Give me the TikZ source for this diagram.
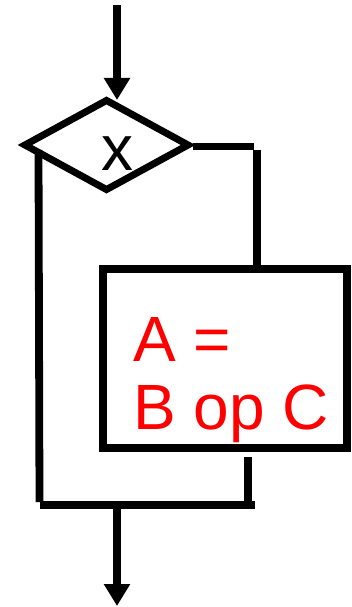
\documentclass[tikz,border=0pt]{standalone}
\usepackage{fontspec}
\setmainfont{Liberation Sans}
\usetikzlibrary{shapes.geometric,arrows.meta}
\begin{document}
\begin{tikzpicture}[x=1pt,y=-1pt,
  wire/.style={line width=7.8pt},
  arr/.style={wire,-{Triangle[width=25pt,length=22pt]}},
  bigtext/.style={font=\fontsize{64}{68}\selectfont,inner sep=0pt}]
\useasboundingbox (0,0) rectangle (351,607);
% decision
\node[diamond,draw,line width=7pt,minimum width=166pt,minimum height=92pt,inner sep=0pt] (d) at (106.5,145) {};
\node[bigtext] (xl) at (117,154) {x};
% process box
\node[draw,line width=8pt,minimum width=244pt,minimum height=179pt,inner sep=0pt] (b) at (225,358.5) {};
\node[bigtext,text=red,align=left,anchor=north west] (t) at (133,317) {A =\\B op C};
% coordinates
\coordinate (ti) at (117,5);
\coordinate (tt) at (117,100);
\coordinate (rc1) at (254,146.4);
\coordinate (rc2) at (256.7,149.5);
\coordinate (lt) at (38.5,150);
\coordinate (lb) at (39.5,502);
\coordinate (hl) at (40,505);
\coordinate (hr) at (255,505);
\coordinate (bv1) at (248,457);
\coordinate (bv2) at (248,501);
\coordinate (bo1) at (117,509);
\coordinate (bo2) at (117,606);
% connectors
\draw[arr] (ti) -- (tt);
\draw[wire] (d.east |- rc1) -- (rc1);
\draw[wire] (rc2) -- (rc2 |- b.north);
\draw[wire] (lt) -- (lb);
\draw[wire] (hl) -- (hr);
\draw[wire] (bv1) -- (bv2);
\draw[arr] (bo1) -- (bo2);
\end{tikzpicture}
\end{document}
